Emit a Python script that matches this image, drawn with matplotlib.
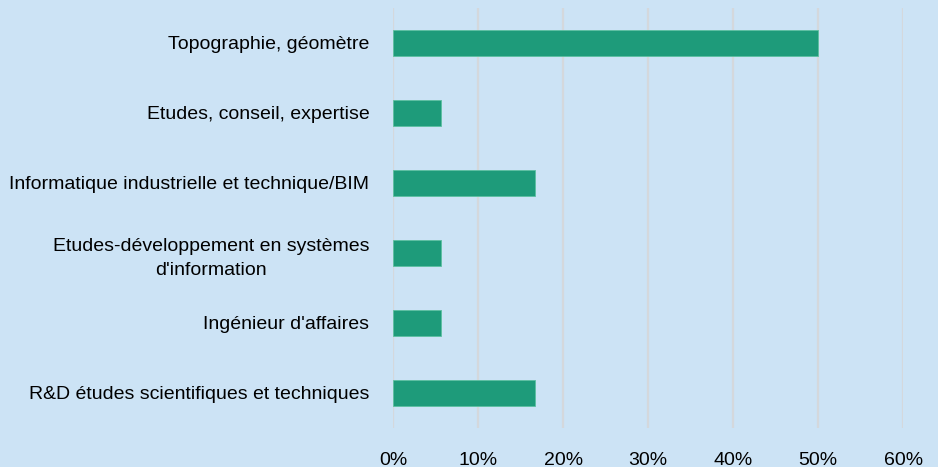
import numpy as np
import matplotlib.pyplot as plt
from matplotlib.ticker import PercentFormatter

categories = [
    "Topographie, géomètre",
    "Etudes, conseil, expertise",
    "Informatique industrielle et technique/BIM",
    "Etudes-développement en systèmes\nd'information",
    "Ingénieur d'affaires",
    "R&D études scientifiques et techniques",
]
values = [50.0, 5.6, 16.7, 5.6, 5.6, 16.7]
x_ticks = [0, 10, 20, 30, 40, 50, 60]

plt.rcParams['font.family'] = ['Liberation Sans', 'DejaVu Sans']

bg = '#cce3f5'
fig = plt.figure(figsize=(9.38, 4.67), dpi=100, facecolor=bg)
ax = fig.add_axes([0.419, 0.0835, 0.544, 0.8995], facecolor=bg)

y = np.arange(len(categories))
ax.barh(y, values, height=0.36, color='#1e9b7a', edgecolor='#5cc0a0', linewidth=0.6, zorder=3)

ax.set_ylim(len(categories) - 0.5, -0.5)
ax.set_xlim(0, 60)
ax.set_xticks(x_ticks)
ax.xaxis.set_major_formatter(PercentFormatter(decimals=0))
ax.set_yticks(y)
ax.set_yticklabels(categories, ha='right', multialignment='center', linespacing=1.55)

ax.tick_params(axis='y', length=0, pad=17, labelsize=14)
ax.tick_params(axis='x', length=0, pad=17, labelsize=14)

ax.grid(axis='x', color='#d4d8dc', linewidth=1.6, zorder=0)
for s in ax.spines.values():
    s.set_visible(False)

fig.savefig('out.png', dpi=100, facecolor=bg)
